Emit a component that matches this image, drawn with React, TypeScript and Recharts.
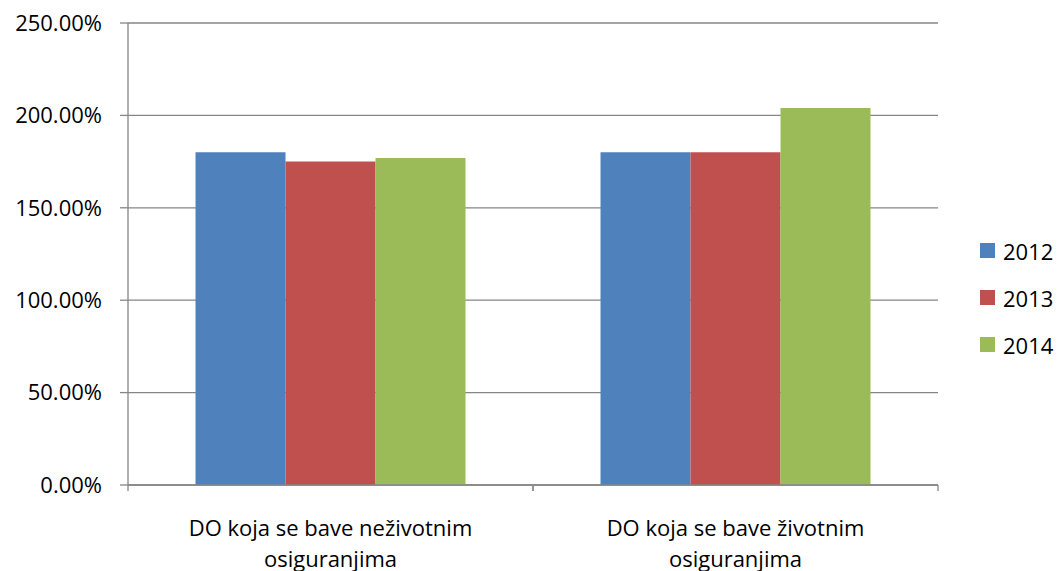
import { BarChart, Bar, XAxis, YAxis, CartesianGrid, Legend } from "recharts";

const categories = ["DO koja se bave neživotnim osiguranjima", "DO koja se bave životnim osiguranjima"];
const years = ["2012", "2013", "2014"];
const values2012 = [180, 180];
const values2013 = [175, 180];
const values2014 = [177, 204];
const yTicks = [0, 50, 100, 150, 200, 250];

const colors = ["#4F81BD", "#C0504D", "#9BBB59"];
const font = "'Open Sans', 'Noto Sans', sans-serif";
const axisGrey = "#868686";

const data = categories.map((name, i) => ({
  name,
  y2012: values2012[i],
  y2013: values2013[i],
  y2014: values2014[i],
}));

// two-line category label; tick marks sit on the band edges
function CategoryTick({ x, y, payload }: any) {
  const words = String(payload.value).split(" ");
  const lines = [words.slice(0, -1).join(" "), words[words.length - 1]];
  const half = payload.offset || 0;
  return (
    <g>
      {half > 0 && (
        <>
          <line x1={x - half} x2={x - half} y1={y} y2={y + 6} stroke={axisGrey} strokeWidth={1.3} />
          <line x1={x + half} x2={x + half} y1={y} y2={y + 6} stroke={axisGrey} strokeWidth={1.3} />
        </>
      )}
      {lines.map((l, i) => (
        <text key={i} x={x} y={y + 42 + i * 31} textAnchor="middle" dominantBaseline="central"
          fontFamily={font} fontSize={22} fill="#000">
          {l}
        </text>
      ))}
    </g>
  );
}

function LegendBox({ payload }: any) {
  return (
    <div style={{ fontFamily: font, fontSize: 22, color: "#000" }}>
      {(payload || []).map((p: any) => (
        <div key={p.value} style={{ display: "flex", alignItems: "center", height: 47 }}>
          <span style={{ width: 15, height: 15, background: p.color, marginRight: 8, display: "inline-block" }} />
          {p.value}
        </div>
      ))}
    </div>
  );
}

export default function App() {
  return (
    <div style={{ position: "absolute", left: 0, top: 0, background: "#fff", width: 1061, height: 571 }}>
      <BarChart width={1061} height={571} data={data}
        margin={{ top: 23, right: 123, left: 0, bottom: 0 }}
        barCategoryGap="16.67%" barGap={0}>
        <CartesianGrid vertical={false} stroke={axisGrey} strokeWidth={1.3} />
        <XAxis dataKey="name" tickLine={false} tickSize={0} tickMargin={0}
          axisLine={{ stroke: axisGrey, strokeWidth: 1.3 }}
          tick={<CategoryTick />} interval={0} height={86} />
        <YAxis width={128} domain={[0, 250]} ticks={yTicks} interval={0}
          tickFormatter={(v: number) => v.toFixed(2) + "%"}
          tick={{ fontFamily: font, fontSize: 22, fill: "#000" }}
          tickSize={8} tickMargin={18}
          tickLine={{ stroke: axisGrey, strokeWidth: 1.3 }}
          axisLine={{ stroke: axisGrey, strokeWidth: 1.3 }} />
        <Legend layout="vertical" align="center" verticalAlign="middle" content={<LegendBox />}
          wrapperStyle={{ position: "absolute", left: 980, top: 227, width: 81, bottom: "auto" }} />
        {years.map((yr, i) => (
          <Bar key={yr} dataKey={"y" + yr} name={yr} fill={colors[i]} isAnimationActive={false} />
        ))}
      </BarChart>
    </div>
  );
}
